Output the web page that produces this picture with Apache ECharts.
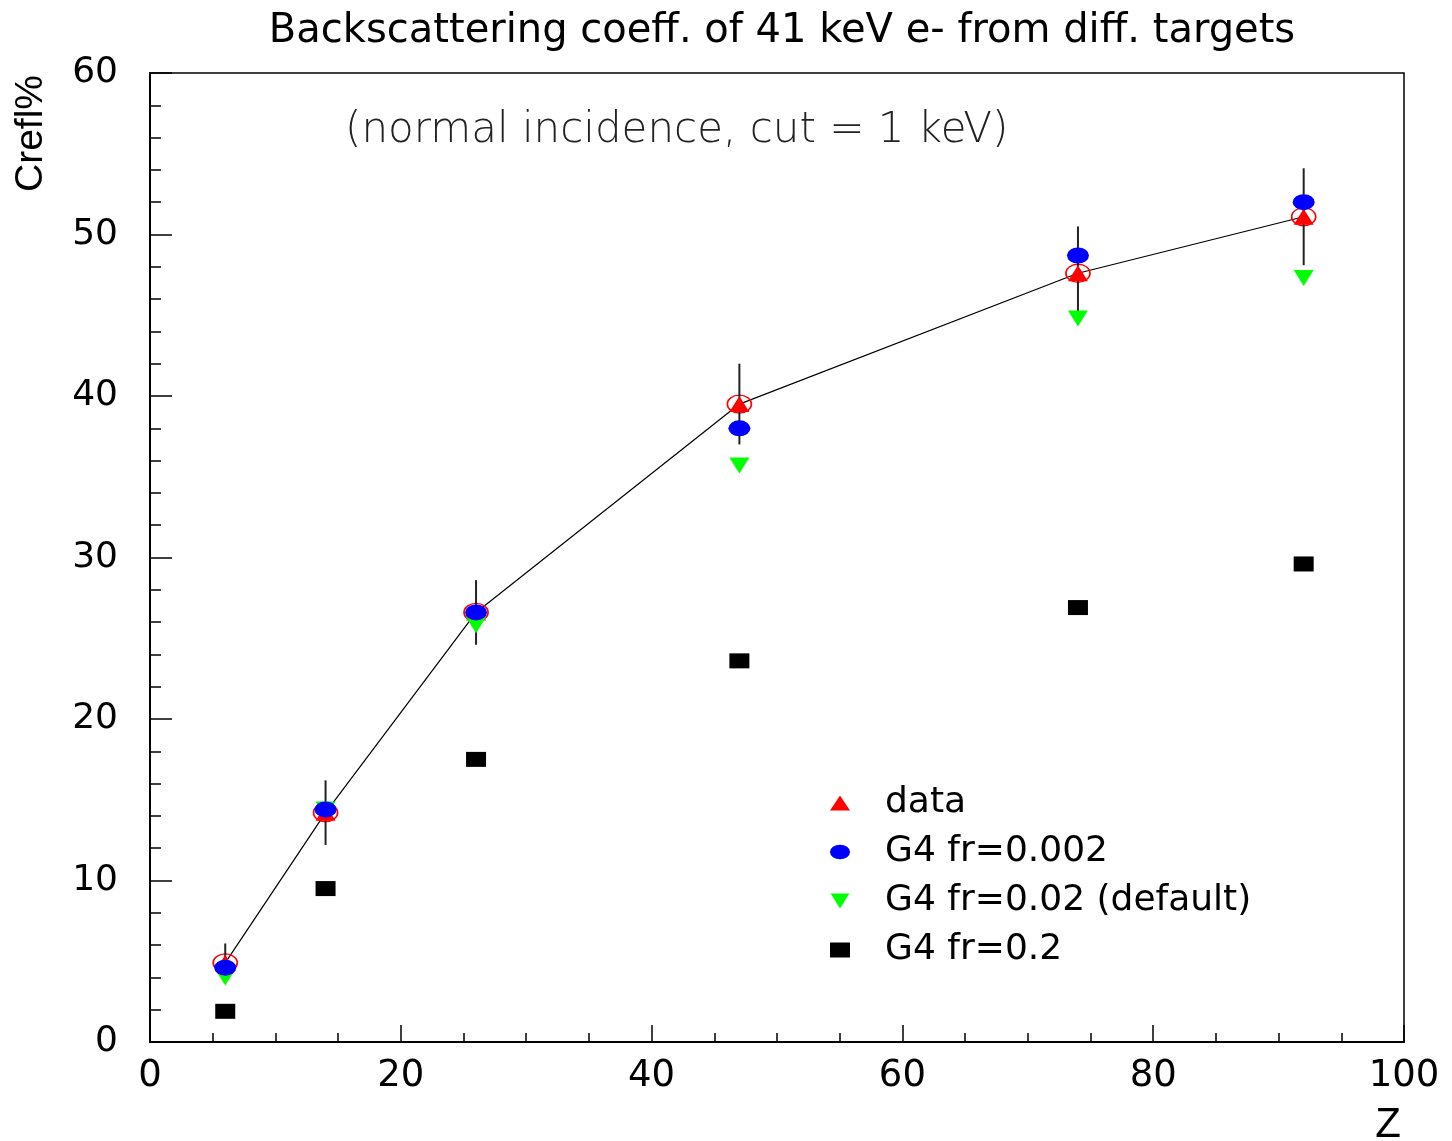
<!DOCTYPE html>
<html>
<head>
<meta charset="utf-8">
<script src="https://cdn.jsdelivr.net/npm/echarts@6/dist/echarts.min.js"></script>
<style>html,body{margin:0;padding:0;background:#fff}#c{width:1452px;height:1141px}</style>
</head>
<body>
<div id="c"></div>
<script>
const Z = [6, 14, 26, 47, 74, 92];
const dataVals = [4.9, 14.2, 26.6, 39.5, 47.6, 51.1];
const dataErr = [1.2, 2.0, 2.0, 2.5, 2.9, 3.0];
const g4fr0002 = [4.6, 14.4, 26.6, 38.0, 48.7, 52.0];
const g4fr002 = [4.0, 14.4, 25.8, 35.7, 44.8, 47.3];
const g4fr02 = [1.9, 9.5, 17.5, 23.6, 26.9, 29.6];
const xTicks = [0, 20, 40, 60, 80, 100];
const yTicks = [0, 10, 20, 30, 40, 50, 60];

const pair = arr => Z.map((z, i) => [z, arr[i]]);
const downTri = 'path://M0,0L10,0L5,8Z';
const ellipse = 'path://M0,8A11,8,0,1,0,22,8A11,8,0,1,0,0,8Z';
const FONT = "'DejaVu Sans', 'Liberation Sans', sans-serif";

const chart = echarts.init(document.getElementById('c'), null, {renderer: 'canvas'});
chart.setOption({
  animation: false,
  backgroundColor: '#fff',
  title: [
    {text: 'Backscattering coeff. of 41 keV e- from diff. targets', left: 777, top: 7, textAlign: 'center',
     textStyle: {fontFamily: FONT, fontSize: 40, fontWeight: 'normal', color: '#000'}},
    {text: '(normal incidence, cut = 1 keV)', left: 340, top: 105,
     textStyle: {fontFamily: "'DejaVu Sans ExtraLight', 'DejaVu Sans', sans-serif", fontSize: 42, fontWeight: 200, color: '#222'}}
  ],
  grid: {left: 150, right: 48, top: 73, bottom: 99, outerBoundsMode: 'none', containLabel: false,
    show: true, borderColor: '#000', borderWidth: 1.5, backgroundColor: 'transparent'},
  legend: {
    orient: 'vertical', left: 830, top: 785, padding: 0, itemWidth: 20, itemHeight: 15, itemGap: 13,
    textStyle: {fontFamily: FONT, fontSize: 36, lineHeight: 36, color: '#000', padding: [0, 0, 0, 30]},
    data: [
      {name: 'data', icon: 'triangle'},
      {name: 'G4 fr=0.002', icon: ellipse},
      {name: 'G4 fr=0.02 (default)', icon: downTri},
      {name: 'G4 fr=0.2', icon: 'rect'}
    ]
  },
  xAxis: {
    type: 'value', min: 0, max: 100, interval: 20,
    name: 'Z', nameLocation: 'end', nameGap: -16,
    nameTextStyle: {fontFamily: "'Liberation Sans', sans-serif", fontSize: 42, color: '#000', align: 'center', verticalAlign: 'top', padding: [62, 0, 0, 0]},
    axisLine: {lineStyle: {color: '#000', width: 2}},
    axisTick: {inside: true, length: 17, lineStyle: {color: '#000', width: 1.5}},
    minorTick: {show: true, splitNumber: 4, length: 9, lineStyle: {color: '#000', width: 1.5}},
    splitLine: {show: false},
    axisLabel: {fontFamily: FONT, fontSize: 37, color: '#000', margin: 16,
      formatter: v => xTicks.includes(v) ? String(v) : ''}
  },
  yAxis: {
    type: 'value', min: 0, max: 60, interval: 10,
    name: 'Crefl%', nameLocation: 'end', nameGap: -2, nameRotate: 90,
    nameTextStyle: {fontFamily: "'Liberation Sans', sans-serif", fontSize: 39, color: '#000', align: 'right', verticalAlign: 'bottom', padding: [0, 0, 99, 0]},
    axisLine: {lineStyle: {color: '#000', width: 2}},
    axisTick: {inside: true, length: 22, lineStyle: {color: '#000', width: 1.5}},
    minorTick: {show: true, splitNumber: 5, length: 11, lineStyle: {color: '#000', width: 1.5}},
    splitLine: {show: false},
    axisLabel: {fontFamily: FONT, fontSize: 36, color: '#000', margin: 32, padding: [12, 0, 0, 0],
      formatter: v => yTicks.includes(v) ? String(v) : ''}
  },
  series: [
    {
      name: 'data line', type: 'line', data: pair(dataVals), z: 2,
      lineStyle: {color: '#000', width: 1.2},
      symbol: 'circle', symbolSize: [24, 18], symbolKeepAspect: false,
      itemStyle: {color: 'rgba(255,255,255,0)', borderColor: '#ff0000', borderWidth: 1.5, opacity: 1},
      emphasis: {disabled: true}, tooltip: {show: false}
    },
    {
      name: 'data err', type: 'custom', z: 3,
      data: Z.map((z, i) => [z, dataVals[i], dataErr[i]]),
      renderItem: function (params, api) {
        const x = api.value(0), y = api.value(1), e = api.value(2);
        const p1 = api.coord([x, y + e]);
        const p2 = api.coord([x, y - e]);
        return {type: 'line', shape: {x1: p1[0], y1: p1[1], x2: p2[0], y2: p2[1]},
          style: {stroke: '#222', lineWidth: 2}};
      }
    },
    {
      name: 'data', type: 'scatter', data: pair(dataVals), z: 4,
      symbol: 'triangle', symbolSize: [20, 16], symbolKeepAspect: false,
      itemStyle: {color: '#ff0000', opacity: 1}
    },
    {
      name: 'G4 fr=0.02 (default)', type: 'scatter', data: pair(g4fr002), z: 5,
      symbol: downTri, symbolSize: [20, 16], symbolKeepAspect: false,
      itemStyle: {color: '#00ff00', opacity: 1}
    },
    {
      name: 'G4 fr=0.002', type: 'scatter', data: pair(g4fr0002), z: 6,
      symbol: 'circle', symbolSize: [22, 16], symbolKeepAspect: false,
      itemStyle: {color: '#0000ff', opacity: 1}
    },
    {
      name: 'G4 fr=0.2', type: 'scatter', data: pair(g4fr02), z: 7,
      symbol: 'rect', symbolSize: [20, 15], symbolKeepAspect: false,
      itemStyle: {color: '#000000', opacity: 1}
    }
  ]
});
</script>
</body>
</html>
